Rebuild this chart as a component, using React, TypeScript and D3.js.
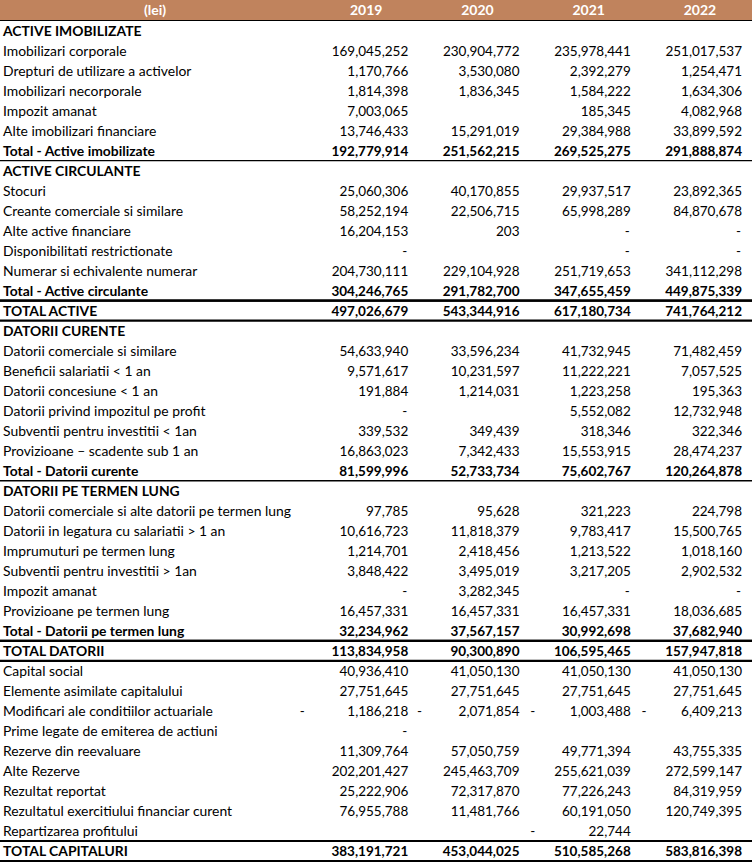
import React from 'react';
import * as d3 from 'd3';

// balance sheet rows (lei)
const years = ['2019', '2020', '2021', '2022'];

const labels = [
  'ACTIVE IMOBILIZATE',
  'Imobilizari corporale',
  'Drepturi de utilizare a activelor',
  'Imobilizari necorporale',
  'Impozit amanat',
  'Alte imobilizari financiare',
  'Total - Active imobilizate',
  'ACTIVE CIRCULANTE',
  'Stocuri',
  'Creante comerciale si similare',
  'Alte active financiare',
  'Disponibilitati restrictionate',
  'Numerar si echivalente numerar',
  'Total - Active circulante',
  'TOTAL ACTIVE',
  'DATORII CURENTE',
  'Datorii comerciale si similare',
  'Beneficii salariatii < 1 an',
  'Datorii concesiune < 1 an',
  'Datorii privind impozitul pe profit',
  'Subventii pentru investitii < 1an',
  'Provizioane \u2013 scadente sub 1 an',
  'Total - Datorii curente',
  'DATORII PE TERMEN LUNG',
  'Datorii comerciale si alte datorii pe termen lung',
  'Datorii in legatura cu salariatii > 1 an',
  'Imprumuturi pe termen lung',
  'Subventii pentru investitii > 1an',
  'Impozit amanat',
  'Provizioane pe termen lung',
  'Total - Datorii pe termen lung',
  'TOTAL DATORII',
  'Capital social',
  'Elemente asimilate capitalului',
  'Modificari ale conditiilor actuariale',
  'Prime legate de emiterea de actiuni',
  'Rezerve din reevaluare',
  'Alte Rezerve',
  'Rezultat reportat',
  'Rezultatul exercitiului financiar curent',
  'Repartizarea profitului',
  'TOTAL CAPITALURI',
];

// s = section heading, i = item, t = subtotal, g = grand total
const kinds = [
  's', 'i', 'i', 'i', 'i', 'i', 't',
  's', 'i', 'i', 'i', 'i', 'i', 't', 'g',
  's', 'i', 'i', 'i', 'i', 'i', 'i', 't',
  's', 'i', 'i', 'i', 'i', 'i', 'i', 't', 'g',
  'i', 'i', 'i', 'i', 'i', 'i', 'i', 'i', 'i', 'g',
];

// null = empty cell, 0 = shown as "-"
const v2019 = [
  null, 169045252, 1170766, 1814398, 7003065, 13746433, 192779914,
  null, 25060306, 58252194, 16204153, 0, 204730111, 304246765, 497026679,
  null, 54633940, 9571617, 191884, 0, 339532, 16863023, 81599996,
  null, 97785, 10616723, 1214701, 3848422, 0, 16457331, 32234962, 113834958,
  40936410, 27751645, -1186218, 0, 11309764, 202201427, 25222906, 76955788, null, 383191721,
];
const v2020 = [
  null, 230904772, 3530080, 1836345, null, 15291019, 251562215,
  null, 40170855, 22506715, 203, null, 229104928, 291782700, 543344916,
  null, 33596234, 10231597, 1214031, null, 349439, 7342433, 52733734,
  null, 95628, 11818379, 2418456, 3495019, 3282345, 16457331, 37567157, 90300890,
  41050130, 27751645, -2071854, null, 57050759, 245463709, 72317870, 11481766, null, 453044025,
];
const v2021 = [
  null, 235978441, 2392279, 1584222, 185345, 29384988, 269525275,
  null, 29937517, 65998289, 0, 0, 251719653, 347655459, 617180734,
  null, 41732945, 11222221, 1223258, 5552082, 318346, 15553915, 75602767,
  null, 321223, 9783417, 1213522, 3217205, 0, 16457331, 30992698, 106595465,
  41050130, 27751645, -1003488, null, 49771394, 255621039, 77226243, 60191050, -22744, 510585268,
];
const v2022 = [
  null, 251017537, 1254471, 1634306, 4082968, 33899592, 291888874,
  null, 23892365, 84870678, 0, 0, 341112298, 449875339, 741764212,
  null, 71482459, 7057525, 195363, 12732948, 322346, 28474237, 120264878,
  null, 224798, 15500765, 1018160, 2902532, 0, 18036685, 37682940, 157947818,
  41050130, 27751645, -6409213, null, 43755335, 272599147, 84319959, 120749395, null, 583816398,
];

const series = [v2019, v2020, v2021, v2022];

const W = 752;
const H = 865;
const headerH = 20.5;
const minusOffset = [106, 100, 98, 98];
const fmt = d3.format(',');
const font = 'Lato, "Open Sans", sans-serif';

export default function App() {
  const y = d3.scaleBand<number>().domain(d3.range(labels.length)).range([headerH, 861]);
  const x = d3.scaleBand<string>().domain(years).range([297, 742]);
  const right = (yr: string) => (x(yr) as number) + x.bandwidth();

  const cell = (v: number | null, yr: string, k: number, cy: number, bold: boolean) => {
    if (v === null) return null;
    const r = right(yr);
    const weight = bold ? 700 : 400;
    if (v === 0) {
      return (
        <text key={yr} x={r - 1} y={cy} textAnchor="end" fontWeight={weight}>-</text>
      );
    }
    if (v < 0) {
      return (
        <g key={yr}>
          <text x={r - minusOffset[k]} y={cy} textAnchor="middle" fontWeight={weight}>-</text>
          <text x={r} y={cy} textAnchor="end" fontWeight={weight}>{fmt(-v)}</text>
        </g>
      );
    }
    return (
      <text key={yr} x={r} y={cy} textAnchor="end" fontWeight={weight}>{fmt(v)}</text>
    );
  };

  return (
    <svg width={W} height={H} style={{ position: 'absolute', left: 0, top: 0, display: 'block' }}
      fontFamily={font} fontSize={13.5} fill="#000">
      <rect x={0} y={0} width={W} height={headerH} fill="#C0835D" />
      <g fill="#fff" fontWeight={700} fontSize={14}>
        <text x={155} y={headerH / 2} dy="0.36em" textAnchor="middle">(lei)</text>
        {years.map(yr => (
          <text key={yr} x={right(yr) - 42} y={headerH / 2} dy="0.36em" textAnchor="middle">{yr}</text>
        ))}
      </g>
      <line x1={0} x2={W} y1={headerH} y2={headerH} stroke="#000" strokeWidth={1.2} />

      {labels.map((lab, i) => {
        const top = y(i) as number;
        const cy = top + y.bandwidth() / 2 + 5;
        const kind = kinds[i];
        const bold = kind !== 'i';
        const bottom = top + y.bandwidth();
        return (
          <g key={i}>
            <text x={3} y={cy} fontSize={13.9} fontWeight={bold ? 700 : 400}>{lab}</text>
            {years.map((yr, k) => cell(series[k][i], yr, k, cy, bold))}
            {kind === 't' && (
              <line x1={0} x2={W} y1={bottom} y2={bottom} stroke="#000"
                strokeWidth={kinds[i + 1] === 'g' ? 2.2 : 1.3} />
            )}
            {kind === 'g' && (
              <>
                <line x1={0} x2={W} y1={top} y2={top} stroke="#000" strokeWidth={2.2} />
                <line x1={0} x2={W} y1={bottom} y2={bottom} stroke="#000" strokeWidth={2.2} />
              </>
            )}
          </g>
        );
      })}
    </svg>
  );
}
